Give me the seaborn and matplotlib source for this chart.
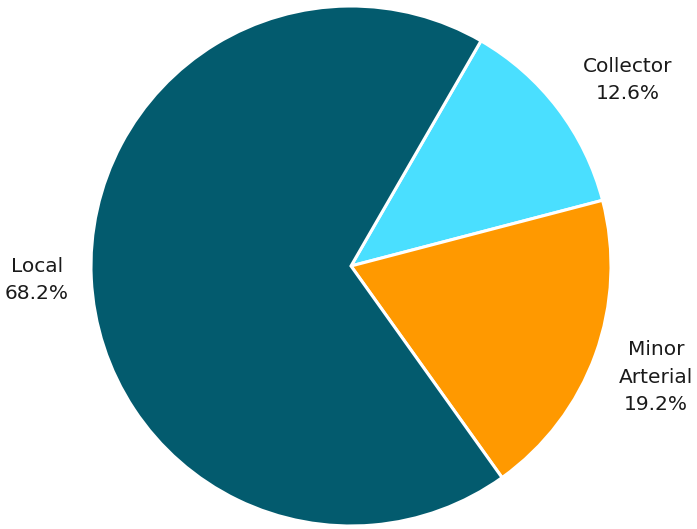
import matplotlib
matplotlib.use("Agg")
import matplotlib.pyplot as plt
import seaborn as sns

# data
categories = ["Collector", "Minor\nArterial", "Local"]
shares = [12.6, 19.2, 68.2]
colors = ["#4ADFFF", "#FF9900", "#035B6E"]

sns.set_theme(style="white")
plt.rcParams['font.family'] = ['DejaVu Sans']

fig = plt.figure(figsize=(6.97, 5.29), dpi=100)
ax = fig.add_axes([0, 0, 1, 1])

labels = [f"{c}\n{s:.1f}%" for c, s in zip(categories, shares)]
wedges, texts = ax.pie(shares, labels=labels, colors=colors, startangle=60,
                       counterclock=False, labeldistance=1.25,
                       wedgeprops=dict(edgecolor="white", linewidth=2.2),
                       textprops=dict(fontsize=14.5, color="#1a1a1a",
                                      ha="center", va="center",
                                      multialignment="center", linespacing=1.55))

# nudge labels to match the reference placement
offsets = [(1.065, 0.715), (1.173, -0.427), (-1.208, -0.054)]
for t, pos in zip(texts, offsets):
    t.set_position(pos)
    t.set_horizontalalignment("center")

# radius 1 = 260 px, centre at (351, 266) px from the top-left
ax.set_xlim(-351 / 260, (697 - 351) / 260)
ax.set_ylim(-(529 - 266) / 260, 266 / 260)
ax.set_aspect("auto")
ax.axis("off")

fig.savefig("out.png", dpi=100, facecolor="white")
